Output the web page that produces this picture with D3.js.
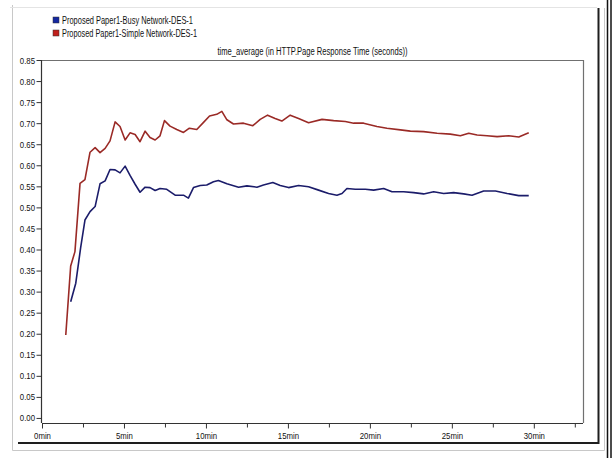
<!DOCTYPE html>
<html>
<head>
<meta charset="utf-8">
<script src="https://cdn.jsdelivr.net/npm/d3@7"></script>
<style>
  html, body { margin: 0; padding: 0; background: #fff; }
  svg { display: block; }
  text { font-family: "Liberation Sans Narrow", "Arial Narrow", "Liberation Sans", Arial, sans-serif; fill: #111; }
</style>
</head>
<body>
<svg id="chart" width="615" height="458"></svg>
<script>
// Series names
const seriesNames = [
  "Proposed Paper1-Busy Network-DES-1",
  "Proposed Paper1-Simple Network-DES-1"
];
const chartTitle = "time_average (in HTTP.Page Response Time (seconds))";

// Simple network (red): time in minutes, response time in seconds
const simpleMinutes = [1.45, 1.75, 2.01, 2.32, 2.62, 2.93, 3.24, 3.54, 3.85, 4.15, 4.46, 4.76, 5.07, 5.37, 5.68, 5.98,
  6.29, 6.59, 6.90, 7.20, 7.47, 7.81, 8.22, 8.63, 8.99, 9.44, 9.81, 10.22, 10.66, 10.97, 11.28, 11.68, 12.29, 12.86,
  13.31, 13.76, 14.22, 14.63, 15.14, 15.65, 16.26, 17.08, 17.79, 18.50, 19.01, 19.62, 20.43, 21.04, 21.86, 22.47,
  23.28, 24.10, 24.91, 25.52, 26.03, 26.54, 27.15, 27.76, 28.47, 29.08, 29.69];
const simpleValues = [0.197, 0.361, 0.395, 0.557, 0.566, 0.631, 0.642, 0.630, 0.640, 0.658, 0.703, 0.692, 0.660, 0.677,
  0.673, 0.656, 0.681, 0.666, 0.660, 0.670, 0.706, 0.693, 0.685, 0.678, 0.688, 0.685, 0.700, 0.717, 0.721, 0.728,
  0.708, 0.698, 0.700, 0.694, 0.709, 0.719, 0.711, 0.705, 0.719, 0.711, 0.701, 0.709, 0.706, 0.704, 0.700, 0.700,
  0.692, 0.688, 0.684, 0.681, 0.680, 0.676, 0.674, 0.670, 0.676, 0.672, 0.670, 0.668, 0.670, 0.667, 0.677];

// Busy network (blue)
const busyMinutes = [1.75, 2.06, 2.36, 2.62, 2.93, 3.24, 3.54, 3.85, 4.15, 4.46, 4.76, 5.07, 5.37, 5.68, 5.98, 6.29,
  6.59, 6.90, 7.20, 7.61, 8.12, 8.63, 8.93, 9.24, 9.65, 10.05, 10.46, 10.76, 11.28, 11.99, 12.50, 13.11, 13.51, 14.08,
  14.53, 15.04, 15.65, 16.26, 16.87, 17.48, 17.99, 18.30, 18.60, 19.11, 19.72, 20.23, 20.84, 21.35, 22.06, 22.67,
  23.28, 23.89, 24.50, 25.11, 25.72, 26.23, 26.94, 27.66, 28.37, 29.08, 29.69];
const busyValues = [0.276, 0.320, 0.405, 0.470, 0.490, 0.502, 0.556, 0.563, 0.590, 0.589, 0.582, 0.598, 0.576, 0.555,
  0.536, 0.548, 0.547, 0.540, 0.545, 0.543, 0.529, 0.529, 0.522, 0.547, 0.552, 0.553, 0.561, 0.564, 0.556, 0.548,
  0.551, 0.548, 0.553, 0.559, 0.552, 0.547, 0.552, 0.549, 0.541, 0.533, 0.529, 0.533, 0.545, 0.543, 0.543, 0.541,
  0.545, 0.537, 0.537, 0.535, 0.532, 0.537, 0.533, 0.535, 0.532, 0.529, 0.539, 0.539, 0.533, 0.528, 0.528];

// Axis ticks
const yTickValues = [0.00, 0.05, 0.10, 0.15, 0.20, 0.25, 0.30, 0.35, 0.40, 0.45, 0.50, 0.55, 0.60, 0.65, 0.70, 0.75, 0.80, 0.85];
const xMajorTicks = [0, 5, 10, 15, 20, 25, 30];
const xMinorTicks = [2.5, 7.5, 12.5, 17.5, 22.5, 27.5, 32.5];

const colors = { busyLine: "#1b1c6a", simpleLine: "#9a2a26", busyKey: "#1428a0", simpleKey: "#c0201c" };

const svg = d3.select("#chart");

// Squeeze a text element horizontally to mimic a narrow face
function condense(sel, factor) {
  sel.each(function () {
    const w = this.getComputedTextLength();
    d3.select(this).attr("textLength", w * factor).attr("lengthAdjust", "spacingAndGlyphs");
  });
}

// Panel frame
const frame = svg.append("g").attr("fill", "none");
frame.append("path").attr("d", "M12.5,5 V450.5 H604.5 V8").attr("stroke", "#c8c8c8").attr("stroke-width", 1);
frame.append("path").attr("d", "M10,7.5 H597").attr("stroke", "#e4e4e4").attr("stroke-width", 1);
frame.append("path").attr("d", "M18,443 H598.5 V8").attr("stroke", "#1e1e1e").attr("stroke-width", 2);
frame.append("line").attr("x1", 607.5).attr("x2", 607.5).attr("y1", 0).attr("y2", 458).attr("stroke", "#111").attr("stroke-width", 1.5);
frame.append("line").attr("x1", 611).attr("x2", 611).attr("y1", 0).attr("y2", 458).attr("stroke", "#111").attr("stroke-width", 1.5);

// Scales
const x = d3.scaleLinear().domain([0, 33]).range([42, 583]);
const y = d3.scaleLinear().domain([-0.012, 0.85]).range([423, 60]);

// Plot box (top and right edges)
svg.append("path")
  .attr("d", `M${x(0)},${y(0.85) + 0.5} H${x(33) + 0.5} V${y(-0.012)}`)
  .attr("fill", "none").attr("stroke", "#707070").attr("stroke-width", 1.2);

// Y axis
const yAxis = svg.append("g")
  .attr("transform", `translate(${x(0) - 0.5},0)`)
  .call(d3.axisLeft(y).tickValues(yTickValues).tickFormat(d3.format(".2f")).tickSize(5).tickPadding(1.5));
yAxis.select(".domain").attr("d", `M0,${y(0.85)}V${y(-0.012)}`).attr("stroke", "#333").attr("stroke-width", 1.2);
yAxis.selectAll(".tick line").attr("stroke", "#333");
yAxis.selectAll(".tick text").attr("font-size", 9.5).attr("fill", "#111").attr("font-family", null).call(condense, 0.82);

// X axis, major ticks with labels
const xAxis = svg.append("g")
  .attr("transform", `translate(0,${y(-0.012) + 0.5})`)
  .call(d3.axisBottom(x).tickValues(xMajorTicks).tickFormat(d => d + "min").tickSize(5).tickPadding(4));
xAxis.select(".domain").attr("d", `M${x(0)},0H${x(33)}`).attr("stroke", "#333").attr("stroke-width", 1.2);
xAxis.selectAll(".tick line").attr("stroke", "#333");
xAxis.selectAll(".tick text").attr("font-size", 9.5).attr("fill", "#111").attr("font-family", null).call(condense, 0.82);

// X axis, minor ticks
svg.append("g")
  .attr("transform", `translate(0,${y(-0.012) + 0.5})`)
  .call(d3.axisBottom(x).tickValues(xMinorTicks).tickFormat("").tickSize(4))
  .call(g => g.select(".domain").remove())
  .selectAll(".tick line").attr("stroke", "#333");

// Title
svg.append("text")
  .attr("x", (x(0) + x(33)) / 2).attr("y", 55)
  .attr("text-anchor", "middle").attr("font-size", 10)
  .attr("textLength", 190).attr("lengthAdjust", "spacingAndGlyphs")
  .text(chartTitle);

// Lines
const line = d3.line().x(d => x(d[0])).y(d => y(d[1]));
const busyData = d3.zip(busyMinutes, busyValues);
const simpleData = d3.zip(simpleMinutes, simpleValues);

svg.append("path").datum(simpleData)
  .attr("d", line).attr("fill", "none")
  .attr("stroke", colors.simpleLine).attr("stroke-width", 1.6).attr("stroke-linejoin", "round");
svg.append("path").datum(busyData)
  .attr("d", line).attr("fill", "none")
  .attr("stroke", colors.busyLine).attr("stroke-width", 1.6).attr("stroke-linejoin", "round");

// Legend
const legend = svg.append("g");
const keyColors = [colors.busyKey, colors.simpleKey];
const keyWidths = [131, 135];
seriesNames.forEach((name, i) => {
  const row = legend.append("g").attr("transform", `translate(53,${17 + i * 13})`);
  row.append("rect").attr("width", 6).attr("height", 6).attr("fill", keyColors[i]).attr("stroke", "#333").attr("stroke-width", 0.5);
  row.append("text").attr("x", 9).attr("y", 6.5)
    .attr("font-size", 10.5)
    .attr("textLength", keyWidths[i]).attr("lengthAdjust", "spacingAndGlyphs")
    .text(name);
});
</script>
</body>
</html>
